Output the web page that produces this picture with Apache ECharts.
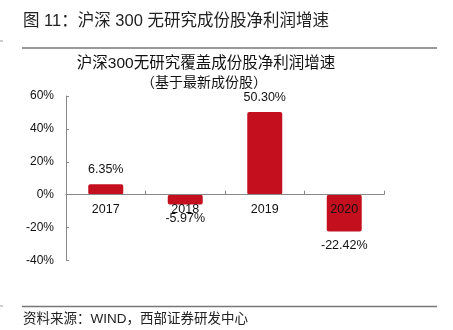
<!DOCTYPE html>
<html>
<head>
<meta charset="utf-8">
<script src="https://cdn.jsdelivr.net/npm/echarts@6/dist/echarts.min.js"></script>
<style>html,body{margin:0;padding:0;background:#fff}#c{width:453px;height:330px}</style>
</head>
<body>
<div id="c"></div>
<script>
var categories = ['2017', '2018', '2019', '2020'];
var growth = [6.35, -5.97, 50.30, -22.42];
var yMin = -40, yMax = 60, yStep = 20;
var headerText = '图 11：沪深 300 无研究成份股净利润增速';
var chartTitle = '沪深300无研究覆盖成份股净利润增速';
var chartSubtitle = '（基于最新成份股）';
var sourceText = '资料来源：WIND，西部证券研发中心';

var FONT = '"Liberation Sans", Arial, "Noto Sans CJK SC", sans-serif';
var GRID_TOP = 96, GRID_BOTTOM = 69.5, H = 330;
var gridH = H - GRID_TOP - GRID_BOTTOM;
// move the category axis (line, ticks, labels) to the zero line
var zeroOffset = -((0 - yMin) / (yMax - yMin)) * gridH;

var chart = echarts.init(document.getElementById('c'), null, {renderer: 'canvas'});
chart.setOption({
  animation: false,
  backgroundColor: '#fff',
  title: [
    {text: headerText, left: 23, top: 13, padding: 0, textStyle: {fontFamily: FONT, fontSize: 16.5, fontWeight: 'normal', color: '#222'}},
    {text: chartTitle, left: 206, textAlign: 'center', top: 56, padding: 0, textStyle: {fontFamily: FONT, fontSize: 15.5, fontWeight: 'normal', color: '#111'}},
    {text: chartSubtitle, left: 204, textAlign: 'center', top: 76, padding: 0, textStyle: {fontFamily: FONT, fontSize: 14, fontWeight: 'normal', color: '#111'}},
    {text: sourceText, left: 23, top: 313, padding: 0, textStyle: {fontFamily: FONT, fontSize: 13.5, fontWeight: 'normal', color: '#222'}}
  ],
  graphic: [
    {type: 'line', shape: {x1: 22, y1: 48, x2: 437, y2: 48}, style: {stroke: '#777', lineWidth: 1.5}},
    {type: 'line', shape: {x1: 22, y1: 306.5, x2: 437, y2: 306.5}, style: {stroke: '#777', lineWidth: 1.5}},
    {type: 'line', shape: {x1: 0, y1: 41, x2: 3, y2: 41}, style: {stroke: '#999', lineWidth: 1}},
    {type: 'line', shape: {x1: 0, y1: 306, x2: 3, y2: 306}, style: {stroke: '#999', lineWidth: 1}}
  ],
  grid: {left: 66, right: 69, top: GRID_TOP, bottom: GRID_BOTTOM, containLabel: false},
  xAxis: {
    type: 'category',
    data: categories,
    offset: zeroOffset,
    z: 10,
    axisLine: {onZero: false, lineStyle: {color: '#888', width: 1}},
    axisTick: {show: true, inside: true, length: 4, alignWithLabel: false, lineStyle: {color: '#888'}},
    axisLabel: {color: '#111', fontFamily: FONT, fontSize: 12.5, margin: 9},
    splitLine: {show: false}
  },
  yAxis: {
    type: 'value',
    min: yMin, max: yMax, interval: yStep,
    axisLine: {show: true, lineStyle: {color: '#888', width: 1}},
    axisTick: {show: true, inside: true, length: 3, lineStyle: {color: '#888'}},
    axisLabel: {color: '#111', fontFamily: FONT, fontSize: 12, margin: 12, formatter: '{value}%'},
    splitLine: {show: false}
  },
  series: [{
    type: 'bar',
    data: growth,
    barWidth: '44%',
    z: 2,
    itemStyle: {color: '#c4101e', borderRadius: 2},
    label: {
      show: true,
      position: 'outside',
      distance: 8,
      color: '#111',
      fontFamily: FONT,
      fontSize: 12.5,
      formatter: function (p) { return p.value.toFixed(2) + '%'; }
    }
  }]
});
</script>
</body>
</html>
